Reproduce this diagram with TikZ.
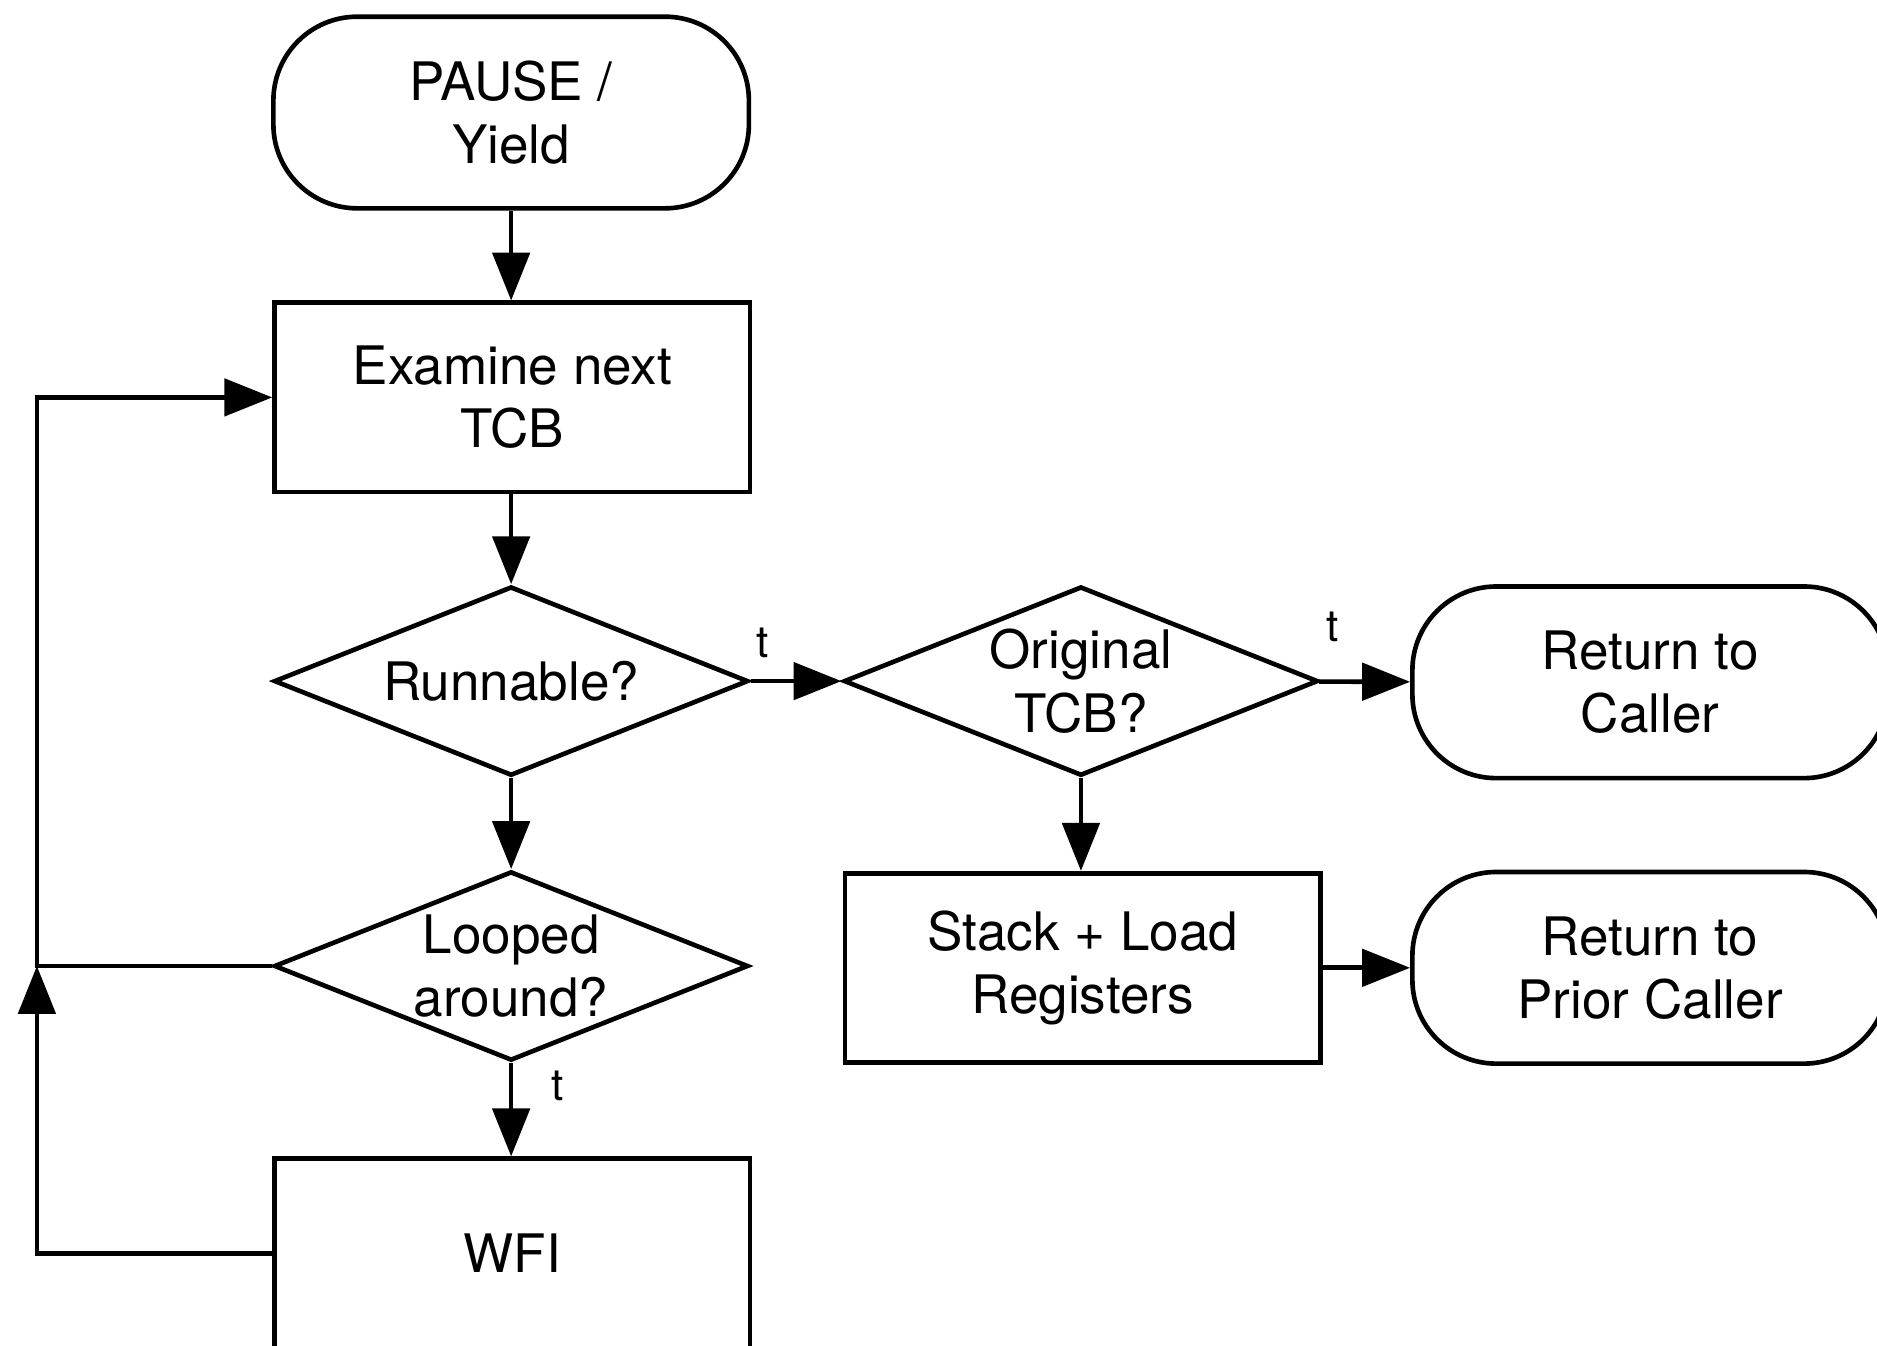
\documentclass[tikz,border=0pt]{standalone}
\usepackage{fontspec}
\setmainfont{TeX Gyre Heros}
\usetikzlibrary{shapes.geometric,arrows.meta}

\begin{document}
\begin{tikzpicture}[
  x=0.01cm, y=0.01cm,
  line width=1.1pt,
  every node/.style={font=\fontsize{12.6}{15}\selectfont, align=center, inner sep=0pt},
  terminal/.style={draw, rounded corners=0.7cm, minimum width=3.97cm, minimum height=1.6cm},
  process/.style={draw, minimum width=3.97cm, minimum height=1.58cm},
  decision/.style={draw, diamond, aspect=2.5, minimum width=3.96cm, minimum height=1.58cm},
  tlabel/.style={font=\fontsize{10.5}{12}\selectfont},
  flow/.style={-{Triangle[length=0.4cm, width=0.31cm]}}
]
\useasboundingbox (0,0) rectangle (1568,1124);
\clip (0,0) rectangle (1568,1124);

% left column
\node[terminal] (pause)    at (427,1030) {PAUSE /\\Yield};
\node[process]  (examine)  at (428,792)  {Examine next\\TCB};
\node[decision] (runnable) at (427,555)  {Runnable?};
\node[decision] (looped)   at (427,317)  {Looped\\around?};
\node[process]  (wfi)      at (428,77)   {WFI};

% right columns
\node[decision] (orig)      at (903,555)    {Original\\TCB?};
\node[process]  (stack)     at (904.5,315.5)  {Stack + Load\\Registers};
\node[terminal] (ret)       at (1378.5,554)   {Return to\\Caller};
\node[terminal] (retprior)  at (1378.5,315.5) {Return to\\Prior Caller};

\draw[flow] (pause.south) -- (pause.south |- examine.north);
\draw[flow] (examine.south -| runnable.north) -- (runnable.north);
\draw[flow] (runnable) -- (looped);
\draw[flow] (looped) -- node[tlabel, pos=0, xshift=0.39cm, yshift=-0.19cm] {t} (looped.south |- wfi.north);
\draw[flow] (runnable) -- node[tlabel, pos=0, xshift=0.10cm, yshift=0.32cm] {t} (orig);
\draw[flow] (orig) -- node[tlabel, pos=0, xshift=0.11cm, yshift=0.46cm] {t} (ret);
\draw[flow] (orig.south) -- (orig.south |- stack.north);
\draw[flow] (stack) -- (retprior);

% loop back
\coordinate (join) at ([xshift=-1.96cm]looped.west);
\draw[flow] (looped.west) -- (join) |- (examine.west);
\draw[flow] (wfi.west) -| (join);
\end{tikzpicture}
\end{document}
